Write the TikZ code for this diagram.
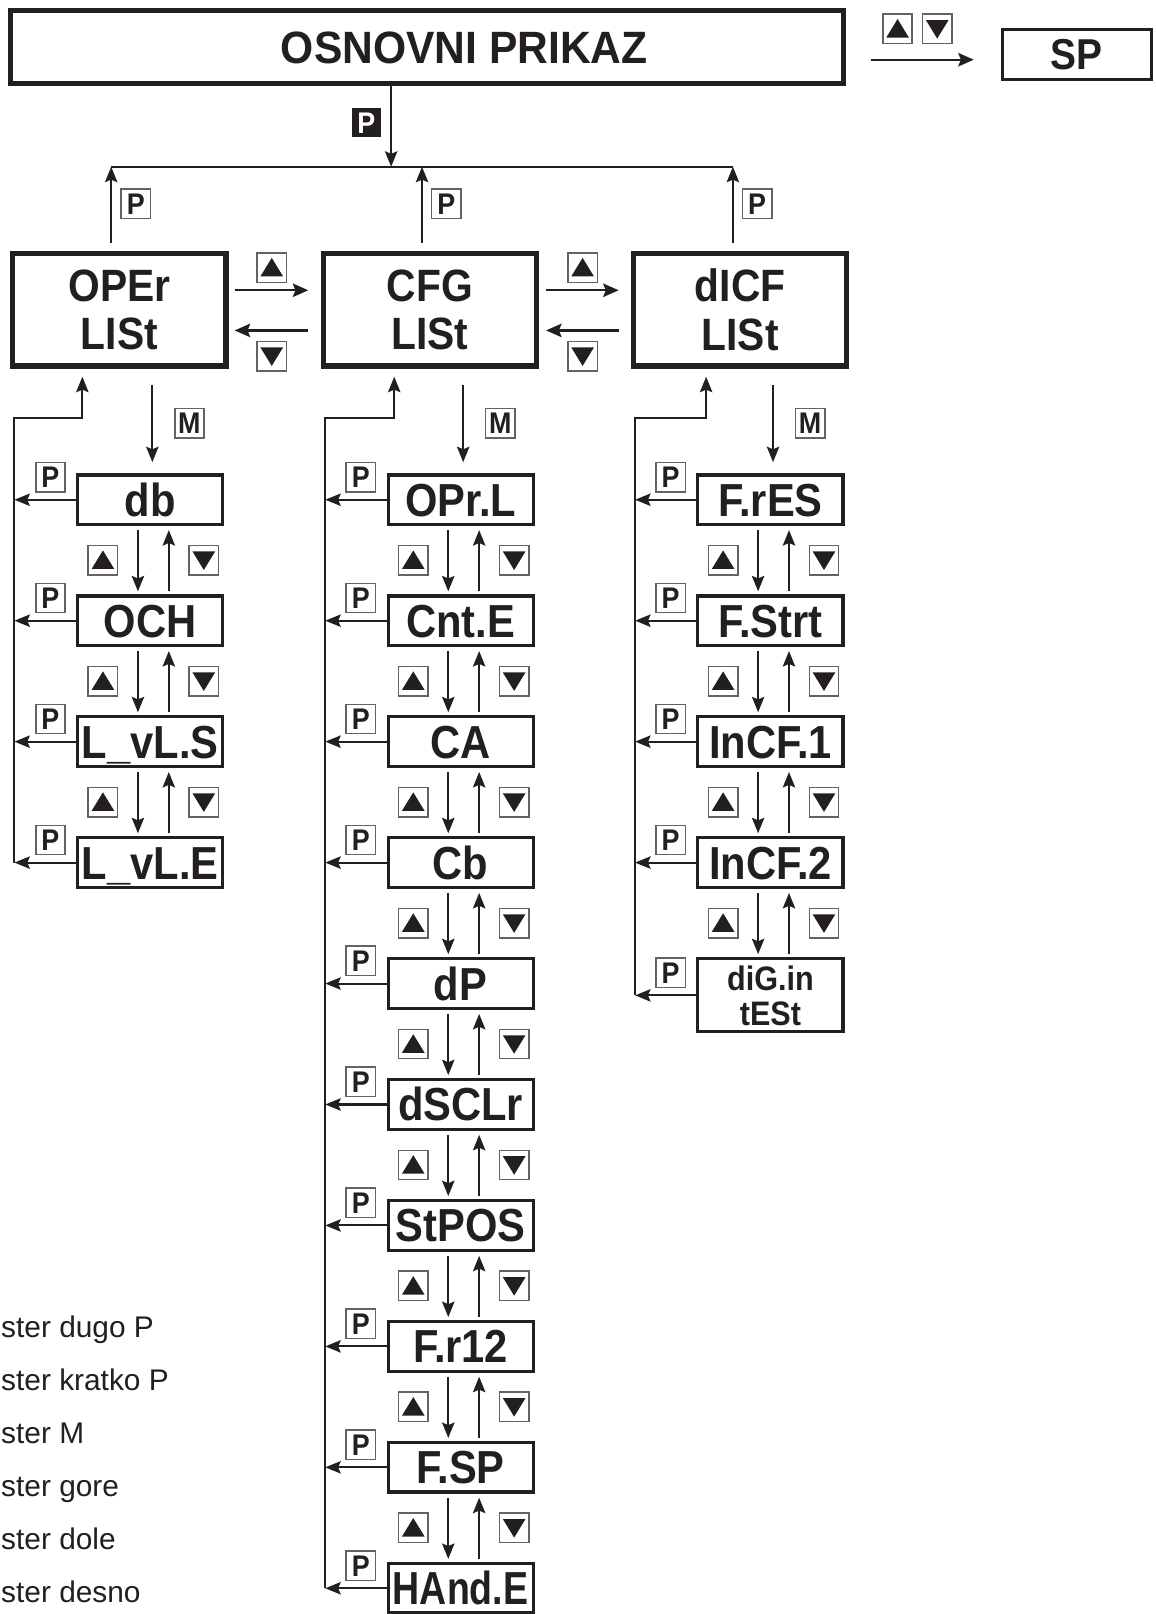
\documentclass[tikz,border=0pt]{standalone}
\usepackage{fontspec}
\setmainfont{Liberation Sans}
\newfontfamily\boxfont[FakeStretch=0.9]{Liberation Sans}
\newfontfamily\widefont[FakeStretch=0.94]{Liberation Sans}
\newfontfamily\tightfont[FakeStretch=0.81]{Liberation Sans}
\usetikzlibrary{arrows.meta,calc}
\definecolor{inkc}{RGB}{35,31,32}
\begin{document}
\begin{tikzpicture}[x=1pt,y=-1pt,
  arr/.style={draw=inkc,line width=2pt,-{Stealth[length=15pt,width=12pt,inset=2.5pt]}},
  arrT/.style={draw=inkc,line width=2.3pt,-{Stealth[length=15pt,width=13pt,inset=2.5pt]}},
  busline/.style={draw=inkc,line width=2.4pt},
  mainbox/.style={draw=inkc,line width=5pt,minimum width=809pt,minimum height=71pt,inner sep=0pt,
     font=\widefont\bfseries\fontsize{44}{44}\selectfont,text height=32pt,text depth=0pt,text=inkc},
  spbox/.style={draw=inkc,line width=3pt,minimum width=145pt,minimum height=49pt,inner sep=0pt,
     font=\boxfont\bfseries\fontsize{42}{42}\selectfont,text height=30pt,text depth=0pt,text=inkc},
  topbox/.style={draw=inkc,line width=5pt,minimum width=207pt,minimum height=109pt,inner sep=0pt,
     align=center,font=\boxfont\bfseries\fontsize{44}{47}\selectfont,text=inkc},
  subbox/.style={draw=inkc,line width=3pt,minimum width=141pt,minimum height=48pt,inner sep=0pt,
     font=\boxfont\bfseries\fontsize{45}{45}\selectfont,text height=32pt,text depth=0pt,text=inkc},
  keybox/.style={draw=inkc!70,line width=1.5pt,minimum size=28.5pt,inner sep=0pt,fill=white},
  pkey/.style={keybox,font=\boxfont\bfseries\fontsize{29}{29}\selectfont,text height=21pt,text depth=0pt,text=inkc},
  pfill/.style={fill=inkc,minimum size=28pt,inner sep=0pt,text=white,
     font=\boxfont\bfseries\fontsize{29}{29}\selectfont,text height=21pt,text depth=0pt},
  upkey/.style={keybox,path picture={\fill[inkc,shift={(path picture bounding box.center)}] (0,-9.5) -- (11,8.5) -- (-11,8.5) -- cycle;}},
  downkey/.style={keybox,path picture={\fill[inkc,shift={(path picture bounding box.center)}] (0,9.5) -- (11,-8.5) -- (-11,-8.5) -- cycle;}},
  legend/.style={anchor=base west,inner sep=0pt,text=inkc,font=\fontsize{29}{29}\selectfont}
]
\fill[white] (0,0) rectangle (1123,1568);
\useasboundingbox (0,0) rectangle (1123,1568);

% top
\node[mainbox] (main) at (415,46) {\hspace*{72pt}OSNOVNI PRIKAZ};
\node[spbox] (SP) at (1046,53) {SP};
\node[upkey] (kSPu) at (872,28) {};
\node[downkey] (kSPd) at (910.5,28) {};
\draw[arrT] ([xshift=24pt,yshift=-12pt]main.east) -- ([xshift=-26pt,yshift=-5pt]SP.west);

\coordinate (busL) at (108,162);
\coordinate (busM) at (380,162);
\coordinate (busC) at (410,162);
\coordinate (busR) at (712,162);
\draw[busline] (busL) -- (busR);
\draw[arr] (main.south -| busM) -- (busM);
\node[pfill] (Pmain) at (356,119) {P};

% menu lists
\node[topbox] (OPEr) at (116,301) {OPEr\\LISt};
\node[topbox] (CFG) at (417.5,301) {CFG\\LISt};
\node[topbox] (dICF) at (719,301) {dICF\\LISt};

\draw[arr] ($(OPEr.north -| busL)+(0,-8)$) -- (busL);
\draw[arr] ($(CFG.north -| busC)+(0,-8)$) -- (busC);
\draw[arr] ($(dICF.north -| busR)+(0,-8)$) -- (busR);
\node[pkey] (pO) at (132,198) {P};
\node[pkey] (pC) at (433.5,198) {P};
\node[pkey] (pD) at (735.5,198) {P};

\draw[arrT] ([xshift=6pt,yshift=19pt]OPEr.east) -- ([xshift=-12pt,yshift=19pt]CFG.west);
\draw[arrT] ([xshift=-12pt,yshift=-20pt]CFG.west) -- ([xshift=6pt,yshift=-20pt]OPEr.east);
\draw[arrT] ([xshift=7pt,yshift=19pt]CFG.east) -- ([xshift=-12pt,yshift=19pt]dICF.west);
\draw[arrT] ([xshift=-12pt,yshift=-20pt]dICF.west) -- ([xshift=7pt,yshift=-20pt]CFG.east);
\node[upkey] (kh1u) at (264,260) {};
\node[downkey] (kh1d) at (264,346) {};
\node[upkey] (kh2u) at (566,260) {};
\node[downkey] (kh2d) at (566,346) {};

% sub menus
\node[subbox] (a1) at (146,485.5) {db};
\node[subbox] (a2) at (146,603) {OCH};
\node[subbox] (a3) at (146,720.5) {L\_vL.S};
\node[subbox] (a4) at (146,838) {L\_vL.E};

\node[subbox] (b1) at (447.5,485.5) {OPr.L};
\node[subbox] (b2) at (447.5,603) {Cnt.E};
\node[subbox] (b3) at (447.5,720.5) {CA};
\node[subbox] (b4) at (447.5,838) {Cb};
\node[subbox] (b5) at (447.5,955.5) {dP};
\node[subbox] (b6) at (447.5,1073) {dSCLr};
\node[subbox] (b7) at (447.5,1190.5) {StPOS};
\node[subbox] (b8) at (447.5,1308) {F.r12};
\node[subbox] (b9) at (447.5,1425.5) {F.SP};
\node[subbox,font=\tightfont\bfseries\fontsize{45}{45}\selectfont] (b10) at (447.5,1543) {HAnd.E};

\node[subbox] (c1) at (748.5,485.5) {F.rES};
\node[subbox] (c2) at (748.5,603) {F.Strt};
\node[subbox] (c3) at (748.5,720.5) {InCF.1};
\node[subbox] (c4) at (748.5,838) {InCF.2};
\node[subbox,minimum height=71pt,align=center,text height=,text depth=,
      font=\boxfont\bfseries\fontsize{33}{34}\selectfont] (c5) at (748.5,967) {diG.in\\tESt};

% M arrows
\draw[arr] ($(OPEr.south)+(32,16)$) -- ($(a1.north)+(2,-11)$);
\draw[arr] ($(CFG.south)+(32.5,16)$) -- ($(b1.north)+(2.5,-11)$);
\draw[arr] ($(dICF.south)+(32,16)$) -- ($(c1.north)+(2.5,-11)$);
\node[pkey] (m1) at (184,411) {M};
\node[pkey] (m2) at (486,411) {M};
\node[pkey] (m3) at (787,411) {M};

% chains
\foreach \u/\v in {a1/a2,a2/a3,a3/a4,b1/b2,b2/b3,b3/b4,b4/b5,b5/b6,b6/b7,b7/b8,b8/b9,b9/b10,c1/c2,c2/c3,c3/c4,c4/c5}{
  \draw[arr] ([xshift=-12pt,yshift=-4pt]\u.south) -- ([xshift=-12pt,yshift=3pt]\v.north);
  \draw[arr] ([xshift=18pt,yshift=3pt]\v.north) -- ([xshift=18pt,yshift=-4pt]\u.south);
  \node[upkey] (ku-\u) at ($(\u.south)!0.5!(\v.north)+(-46,0)$) {};
  \node[downkey] (kd-\u) at ($(\u.south)!0.5!(\v.north)+(52,0)$) {};
}

% return lines
\coordinate (L1) at (14,406);
\coordinate (L2) at (316,406);
\coordinate (L3) at (617,406);
\draw[arr] (a4.west -| L1) -- (L1) -| ($(OPEr.south)+(-36,8)$);
\draw[arr] (b10.west -| L2) -- (L2) -| ($(CFG.south)+(-34.5,8)$);
\draw[arr] (c5.west -| L3) -- (L3) -| ($(dICF.south)+(-33,8)$);

\foreach \n/\L in {a1/L1,a2/L1,a3/L1,a4/L1,b1/L2,b2/L2,b3/L2,b4/L2,b5/L2,b6/L2,b7/L2,b8/L2,b9/L2,b10/L2,c1/L3,c2/L3,c3/L3,c4/L3,c5/L3}{
  \draw[arr] (\n.west) -- (\n.west -| \L);
  \node[pkey] (p-\n) at ($(\n.west)+(-25,-22)$) {P};
}

% legend
\foreach \t/\yy [count=\i] in {ster dugo P/1299,ster kratko P/1351,ster M/1402,ster gore/1454,ster dole/1505,ster desno/1557}{
  \node[legend] (leg\i) at (1,\yy) {\t};
}
\end{tikzpicture}
\end{document}
